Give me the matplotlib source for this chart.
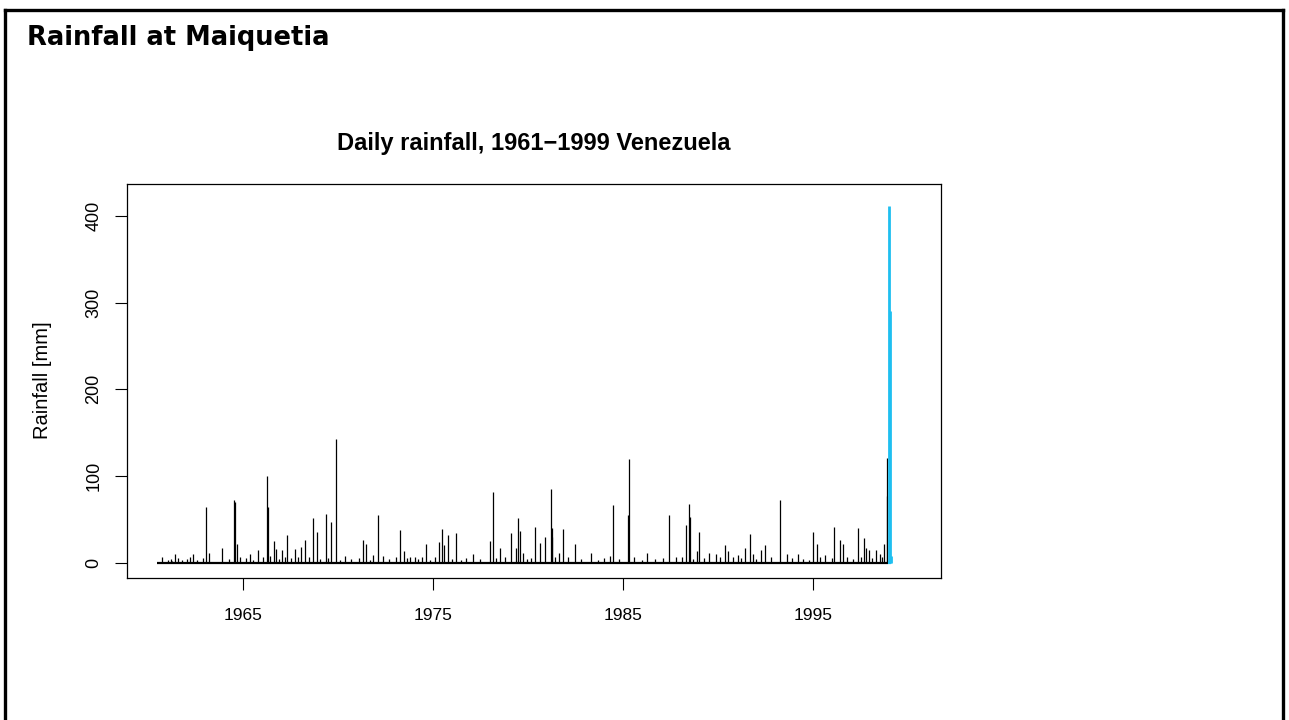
import matplotlib
matplotlib.use('Agg')
import matplotlib.pyplot as plt
from matplotlib.lines import Line2D

# daily rainfall spikes (decimal year, mm)
years = [1960.74, 1961.42, 1962.40, 1963.05, 1963.21, 1963.91, 1964.53, 1964.59,
         1964.70, 1965.38, 1965.79, 1966.26, 1966.35, 1966.65, 1966.75, 1967.05,
         1967.32, 1967.75, 1968.05, 1968.28, 1968.72, 1968.89, 1969.38, 1969.65,
         1969.91, 1970.38, 1971.35, 1971.51, 1971.87, 1972.11, 1972.40, 1973.28,
         1973.47, 1973.81, 1974.07, 1974.42, 1974.66, 1975.35, 1975.47, 1975.58,
         1975.82, 1976.23, 1976.75, 1977.11, 1978.02, 1978.16, 1978.56, 1979.12,
         1979.40, 1979.49, 1979.59, 1979.74, 1980.38, 1980.65, 1980.89, 1981.21,
         1981.26, 1981.29, 1981.66, 1981.87, 1982.49, 1983.33, 1984.33, 1984.47,
         1985.30, 1985.33, 1986.28, 1987.42, 1987.79, 1988.35, 1988.51, 1988.56,
         1988.89, 1989.00, 1989.54, 1989.89, 1990.38, 1990.53, 1991.05, 1991.45,
         1991.70, 1991.84, 1992.26, 1992.47, 1993.28, 1993.63, 1994.21, 1995.03,
         1995.21, 1995.65, 1996.14, 1996.44, 1996.59, 1997.37, 1997.70, 1997.82,
         1997.95, 1998.32, 1998.53, 1998.77, 1998.89, 1998.91]
rain = [7, 10, 10, 64, 11, 17, 72, 70,
        21, 10, 15, 100, 64, 25, 16, 15,
        32, 16, 18, 26, 51, 35, 56, 47,
        143, 8, 26, 21, 9, 55, 8, 38,
        13, 6, 6, 6, 21, 24, 39, 20,
        32, 34, 5, 10, 25, 81, 17, 34,
        17, 51, 36, 11, 41, 23, 30, 85,
        40, 30, 11, 39, 22, 11, 8, 67,
        55, 119, 11, 55, 6, 43, 68, 53,
        14, 35, 11, 10, 20, 13, 9, 17,
        33, 10, 15, 20, 72, 10, 10, 35,
        22, 9, 41, 26, 21, 40, 29, 17,
        15, 15, 10, 22, 77, 121]

# smaller days that thicken the base of the series
small_years = [1961.08, 1961.20, 1961.30, 1961.60, 1961.80, 1962.05, 1962.20, 1962.60,
               1962.90, 1964.30, 1964.85, 1965.15, 1965.55, 1966.05, 1966.45, 1966.90,
               1967.20, 1967.55, 1967.90, 1968.50, 1969.05, 1969.50, 1970.10, 1970.70,
               1971.10, 1971.70, 1972.70, 1973.05, 1973.65, 1974.25, 1974.85, 1975.10,
               1976.00, 1976.50, 1977.50, 1978.35, 1978.80, 1979.95, 1980.15, 1981.45,
               1982.10, 1982.80, 1983.70, 1984.00, 1984.80, 1985.60, 1986.00, 1986.70,
               1987.10, 1988.10, 1988.70, 1989.30, 1990.10, 1990.80, 1991.25, 1992.00,
               1992.80, 1993.90, 1994.50, 1994.80, 1995.40, 1996.00, 1996.80, 1997.10,
               1997.55, 1998.10, 1998.65]
small_rain = [3, 4, 2, 5, 3, 4, 6, 3,
              5, 4, 6, 5, 3, 6, 8, 4,
              6, 5, 7, 6, 4, 5, 3, 4,
              5, 3, 4, 6, 5, 4, 3, 6,
              4, 3, 4, 5, 6, 4, 5, 7,
              6, 4, 3, 5, 4, 6, 3, 4,
              5, 6, 4, 5, 6, 7, 5, 4,
              6, 5, 4, 3, 6, 5, 7, 4,
              6, 5, 7]

# the December 1999 event, drawn in blue
flood_years = [1999.02, 1999.07, 1999.10]
flood_rain = [411, 290, 8]

series_start = 1960.51
series_end = 1998.98
flood_end = 1999.14

x_ticks = [1965, 1975, 1985, 1995]
y_ticks = [0, 100, 200, 300, 400]

W, H = 1289, 720
fig = plt.figure(figsize=(W / 100, H / 100), dpi=100)
fig.patch.set_facecolor('white')

# slide frame
lw_frame = 2.4
fig.add_artist(Line2D([5 / W, 5 / W], [0, 1 - 10 / H], transform=fig.transFigure, color='black', lw=lw_frame))
fig.add_artist(Line2D([5 / W, 1283 / W], [1 - 10 / H, 1 - 10 / H], transform=fig.transFigure, color='black', lw=lw_frame))
fig.add_artist(Line2D([1283 / W, 1283 / W], [0, 1 - 10 / H], transform=fig.transFigure, color='black', lw=lw_frame))

fig.text(27 / W, 1 - 45 / H, 'Rainfall at Maiquetia', fontsize=18.5, fontweight='bold',
         family='DejaVu Sans', ha='left', va='baseline')

ax = fig.add_axes([127 / W, 1 - 578 / H, (941 - 127) / W, (578 - 184) / H])

ax.plot([series_start, series_end], [0, 0], color='black', lw=1.6, solid_capstyle='butt')
ax.vlines(small_years, 0, small_rain, color='black', lw=0.9)
ax.vlines(years, 0, rain, color='black', lw=0.9)
ax.plot([series_end, flood_end], [0, 0], color='#1ebff0', lw=1.6, solid_capstyle='butt')
ax.vlines(flood_years, 0, flood_rain, color='#1ebff0', lw=2.0)

ax.set_xlim(1958.91, 2001.75)
ax.set_ylim(-17.7, 436.8)
ax.set_xticks(x_ticks)
ax.set_yticks(y_ticks)
ax.set_xticklabels([str(t) for t in x_ticks], family='Liberation Sans', fontsize=12.5)
ax.set_yticklabels([str(t) for t in y_ticks], family='Liberation Sans', fontsize=13,
                   rotation=90, va='center')
ax.tick_params(direction='out', length=8.6, width=0.8, color='black')
ax.tick_params(axis='x', pad=13)
ax.tick_params(axis='y', pad=9)
for s in ax.spines.values():
    s.set_linewidth(0.9)
    s.set_color('black')

fig.text(534 / W, 1 - 150 / H, 'Daily rainfall, 1961\u22121999 Venezuela', fontsize=17,
         fontweight='bold', family='Liberation Sans', ha='center', va='baseline')
fig.text(42 / W, 1 - 380 / H, 'Rainfall [mm]', fontsize=14.5, family='Liberation Sans',
         rotation=90, ha='center', va='center')

fig.savefig('out.png', dpi=100)
